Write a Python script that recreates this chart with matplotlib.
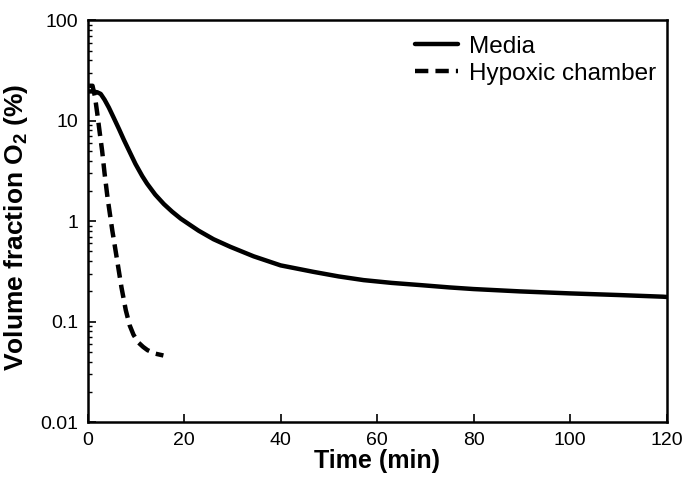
import matplotlib
matplotlib.use("Agg")
import matplotlib.pyplot as plt
from matplotlib.ticker import FixedLocator, LogLocator, NullFormatter

# values
media_t = [0.0, 1.0, 2.0, 2.7, 3.5, 4.4, 5.4, 6.5, 7.5, 8.5, 9.9, 11.3, 12.3, 14.0, 15.8,
           17.5, 19.3, 21.3, 23.0, 26.1, 29.6, 34.4, 40.0, 46.8, 52.0, 57.2, 63.0, 69.0,
           75.0, 80.0, 89.6, 100.0, 110.0, 119.3, 120.0]
media_o2 = [19.6, 19.6, 19.2, 18.5, 16.2, 13.5, 10.7, 8.26, 6.46, 5.13, 3.72, 2.82, 2.37,
            1.84, 1.48, 1.245, 1.059, 0.912, 0.804, 0.661, 0.555, 0.447, 0.363, 0.313,
            0.282, 0.259, 0.243, 0.231, 0.219, 0.211, 0.200, 0.191, 0.184, 0.177, 0.176]

hyp_t = [0.3, 1.0, 1.5, 2.0, 2.5, 3.0, 3.5, 4.1, 5.1, 6.1, 7.0, 7.9, 8.7, 9.5, 10.5, 11.5,
         12.4, 14.0, 15.7]
hyp_o2 = [22.3, 22.3, 17.5, 11.7, 7.6, 5.0, 3.0, 1.74, 0.81, 0.41, 0.22, 0.13, 0.092,
          0.074, 0.062, 0.056, 0.052, 0.048, 0.046]

x_ticks = [0, 20, 40, 60, 80, 100, 120]
y_ticks = [0.01, 0.1, 1, 10, 100]
y_labels = ["0.01", "0.1", "1", "10", "100"]

plt.rcParams.update({
    "font.family": ["Liberation Sans", "DejaVu Sans"],
    "mathtext.fontset": "custom",
    "mathtext.rm": "Liberation Sans",
    "mathtext.bf": "Liberation Sans:bold",
})

fig, ax = plt.subplots(figsize=(6.85, 4.84), dpi=100)
fig.subplots_adjust(left=0.128, right=0.973, top=0.958, bottom=0.128)

ax.plot(media_t, media_o2, color="black", lw=3.2, label="Media",
        solid_joinstyle="round", solid_capstyle="round")
ax.plot(hyp_t, hyp_o2, color="black", lw=3.2, ls=(0, (3.0, 1.6)), label="Hypoxic chamber",
        dash_joinstyle="round")

ax.set_yscale("log")
ax.set_xlim(0, 120)
ax.set_ylim(0.01, 100)
ax.xaxis.set_major_locator(FixedLocator(x_ticks))
ax.yaxis.set_major_locator(FixedLocator(y_ticks))
ax.set_yticklabels(y_labels)
ax.yaxis.set_minor_locator(LogLocator(base=10, subs=range(2, 10)))
ax.yaxis.set_minor_formatter(NullFormatter())

ax.tick_params(which="major", direction="in", length=6, width=1.2, labelsize=14, pad=7)
ax.tick_params(which="minor", direction="in", length=3, width=1.0)
for s in ax.spines.values():
    s.set_linewidth(1.8)

ax.set_xlabel("Time (min)", fontsize=18, fontweight="bold", labelpad=0)
ax.set_ylabel(r"Volume fraction O$_\mathbf{2}$ (%)", fontsize=19, fontweight="bold")
ax.yaxis.set_label_coords(-0.099, 0.484)

ax.legend(loc="upper right", frameon=False, fontsize=17.5, handlelength=1.75,
          handletextpad=0.45, borderpad=0, borderaxespad=0, labelspacing=0.22,
          bbox_to_anchor=(0.982, 0.962))

fig.savefig("out.png", dpi=100)
